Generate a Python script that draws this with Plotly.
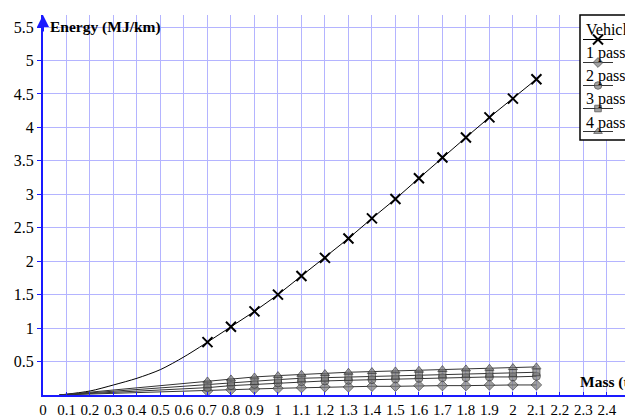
import plotly.graph_objects as go

# Data
mass = [0.7, 0.8, 0.9, 1.0, 1.1, 1.2, 1.3, 1.4, 1.5, 1.6, 1.7, 1.8, 1.9, 2.0, 2.1]
vehicle = [0.79, 1.02, 1.25, 1.50, 1.78, 2.05, 2.34, 2.64, 2.93, 3.24, 3.55, 3.85, 4.15, 4.43, 4.72]
pass1 = [0.06, 0.08, 0.09, 0.10, 0.11, 0.12, 0.12, 0.13, 0.13, 0.14, 0.14, 0.14, 0.15, 0.15, 0.15]
pass2 = [0.11, 0.14, 0.16, 0.18, 0.20, 0.21, 0.22, 0.23, 0.24, 0.25, 0.26, 0.26, 0.27, 0.27, 0.28]
pass3 = [0.16, 0.19, 0.21, 0.23, 0.25, 0.26, 0.27, 0.28, 0.29, 0.30, 0.31, 0.32, 0.32, 0.33, 0.34]
pass4 = [0.21, 0.24, 0.27, 0.29, 0.31, 0.32, 0.34, 0.35, 0.36, 0.37, 0.38, 0.39, 0.40, 0.41, 0.42]
series_names = ["Vehicle", "1 pass.", "2 pass.", "3 pass.", "4 pass."]

# Lead-in curve (unmarked) of the vehicle series
lead_mass = [0.07, 0.2, 0.3, 0.4, 0.5, 0.6, 0.7]
lead_vehicle = [0.0, 0.06, 0.15, 0.25, 0.38, 0.57, 0.79]
lead_start_mass = 0.07
lead_start_val = 0.0

x_ticks = [round(i * 0.1, 1) for i in range(25)]
x_tick_labels = ["0"] + [("%g" % v) for v in x_ticks[1:]]
y_ticks = [0.5, 1, 1.5, 2, 2.5, 3, 3.5, 4, 4.5, 5, 5.5]
y_tick_labels = ["0.5", "1", "1.5", "2", "2.5", "3", "3.5", "4", "4.5", "5", "5.5"]

SERIF = "Liberation Serif, Times New Roman, serif"
BLUE = "#1a1aff"
GRID = "#b4b4ff"

W, H = 625, 417
ML, MT, MR, MB = 43, 15, 0, 22
PW, PH = W - ML - MR, H - MT - MB


def px_to_paper_x(fx):
    return (fx - ML) / PW


def px_to_paper_y(fy):
    return (H - MB - fy) / PH


fig = go.Figure()

fig.add_trace(go.Scatter(x=lead_mass, y=lead_vehicle, mode="lines",
                         line=dict(color="black", width=1, shape="spline", smoothing=0.8),
                         showlegend=False, hoverinfo="skip"))
fig.add_trace(go.Scatter(x=mass, y=vehicle, mode="lines+markers", name=" ",
                         legendgroup="g0",
                         line=dict(color="black", width=1),
                         marker=dict(symbol="x-thin", size=10, color="black",
                                     line=dict(color="black", width=2))))

series = [(pass1, "diamond", 8), (pass2, "circle", 8),
          (pass3, "square", 7), (pass4, "triangle-up", 8)]
for i, (vals, sym, sz) in enumerate(series):
    xs = [lead_start_mass] + mass
    ys = [lead_start_val] + vals
    sizes = [0] + [sz] * len(mass)
    fig.add_trace(go.Scatter(x=xs, y=ys, mode="lines+markers", name=" ",
                             legendgroup="g%d" % (i + 1),
                             line=dict(color="#333333", width=1),
                             marker=dict(symbol=sym, size=sizes, color="#7a7a7a",
                                         line=dict(color="#333333", width=1))))

box_left = 580
annotations = [
    dict(x=0.02, y=5.5, xref="x", yref="y", text="<b>Energy (MJ/km)</b>", showarrow=False,
         xanchor="left", yanchor="middle", font=dict(family=SERIF, size=15.5, color="black")),
    dict(x=2.277, y=0.2, xref="x", yref="y", text="<b>Mass (t)</b>", showarrow=False,
         xanchor="left", yanchor="middle", font=dict(family=SERIF, size=15.5, color="black")),
    dict(x=0, y=1.0, xref="x", yref="paper", ax=0, ay=18, axref="pixel", ayref="pixel",
         text="", showarrow=True, arrowhead=2, arrowsize=1.2, arrowwidth=2, arrowcolor=BLUE),
]
for k, nm in enumerate(series_names):
    annotations.append(dict(x=px_to_paper_x(box_left + 4), y=px_to_paper_y(29 + 23.5 * k),
                            xref="paper", yref="paper", text=nm, showarrow=False,
                            xanchor="left", yanchor="middle",
                            font=dict(family=SERIF, size=16, color="black")))

fig.update_layout(
    width=W, height=H,
    margin=dict(l=ML, r=MR, t=MT, b=MB, autoexpand=False),
    plot_bgcolor="white", paper_bgcolor="white",
    font=dict(family=SERIF, size=15, color="black"),
    showlegend=True,
    legend=dict(x=px_to_paper_x(box_left - 2), y=px_to_paper_y(25), xanchor="left", yanchor="top",
                bgcolor="rgba(0,0,0,0)", borderwidth=0,
                font=dict(family=SERIF, size=12, color="black"),
                traceorder="grouped", tracegroupgap=4, itemwidth=30),
    shapes=[dict(type="rect", xref="paper", yref="paper",
                 x0=px_to_paper_x(box_left), x1=1.05,
                 y0=px_to_paper_y(140), y1=px_to_paper_y(15),
                 fillcolor="white", line=dict(color="black", width=1.5), layer="above")],
    xaxis=dict(range=[0, 2.477], tickmode="array", tickvals=x_ticks, ticktext=x_tick_labels,
               showgrid=True, gridcolor=GRID, gridwidth=1, zeroline=False,
               showline=True, linecolor=BLUE, linewidth=2,
               ticks="inside", ticklen=3, tickcolor=BLUE,
               tickfont=dict(family=SERIF, size=15, color="black")),
    yaxis=dict(range=[0, 5.68], tickmode="array", tickvals=y_ticks, ticktext=y_tick_labels,
               showgrid=True, gridcolor=GRID, gridwidth=1, zeroline=False,
               showline=True, linecolor=BLUE, linewidth=2,
               ticks="outside", ticklen=4, tickcolor=BLUE,
               tickfont=dict(family=SERIF, size=16, color="black")),
    annotations=annotations,
)

fig.write_html("out.html",
               config={"displayModeBar": False},
               post_script="document.body.style.margin='0';document.body.style.overflow='hidden';")
